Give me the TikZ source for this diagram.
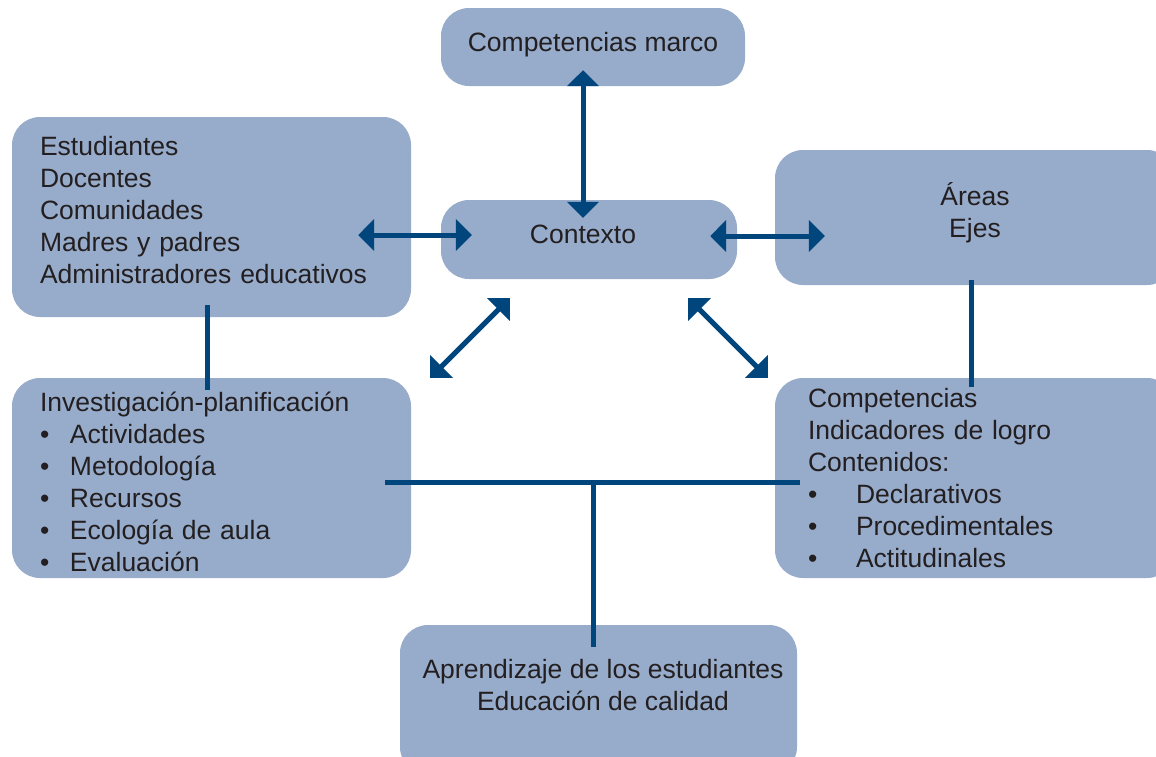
\documentclass[tikz,border=0pt]{standalone}
\usepackage{fontspec}
\setmainfont{Liberation Sans}
\usetikzlibrary{arrows.meta}
\definecolor{cajafondo}{HTML}{97ABCB}
\definecolor{flecha}{HTML}{00457C}
\definecolor{texto}{HTML}{231F20}
\newcommand{\vineta}[1][30pt]{\makebox[#1][l]{\textbullet}}

\begin{document}
\begin{tikzpicture}[
                x=1pt, y=-1pt,
                caja/.style={rectangle, rounded corners=28pt, fill=cajafondo, inner sep=0pt},
                letra/.style={text=texto, font=\fontsize{26.5}{32}\selectfont, inner sep=0pt},
                enlace/.style={draw=flecha, line width=5pt},
                doble/.style={enlace, {Triangle[length=16pt, width=31pt]}-{Triangle[length=16pt, width=31pt]}}
            ]
            \path[use as bounding box, clip] (0,0) rectangle (1156,756);

            % Cajas
            \node[caja, minimum width=304pt, minimum height=78pt] (marco) at (593,47) {};
            \node[caja, minimum width=296pt, minimum height=79pt] (ctx) at (589,239.5) {};
            \node[caja, minimum width=399pt, minimum height=200pt] (actores) at (211.5,217) {};
            \node[caja, minimum width=400pt, minimum height=135pt] (areas) at (975,217.5) {};
            \node[caja, minimum width=399pt, minimum height=200pt] (inv) at (211.5,478) {};
            \node[caja, minimum width=400pt, minimum height=200pt] (comp) at (975,478) {};
            \node[caja, minimum width=397pt, minimum height=150pt] (aprend) at (598.5,700) {};

            % Textos
            \node[letra] (marco-t) at ([shift={(0,-2)}]marco) {Competencias marco};
            \node[letra] (ctx-t) at ([shift={(-6,-5)}]ctx) {Contexto};
            \node[letra, text width=343pt, align=left] (actores-t) at ([shift={(0,-7)}]actores)
                {Estudiantes\\Docentes\\Comunidades\\Madres y padres\\Administradores educativos};
            \node[letra, align=center] (areas-t) at ([shift={(0,-5)}]areas) {Áreas\\Ejes};
            \node[letra, text width=343pt, align=left] (inv-t) at ([shift={(0,3.5)}]inv)
                {Investigación-planificación\\\vineta Actividades\\\vineta Metodología\\\vineta Recursos\\\vineta Ecología de aula\\\vineta Evaluación};
            \node[letra, text width=334pt, align=left] (comp-t) at ([shift={(0,0.5)}]comp)
                {Competencias\\Indicadores de logro\\Contenidos:\\\vineta[48pt]Declarativos\\\vineta[48pt]Procedimentales\\\vineta[48pt]Actitudinales};
            \node[letra, align=center] (aprend-t) at ([shift={(4.5,-15)}]aprend)
                {Aprendizaje de los estudiantes\\Educación de calidad};

            % Flechas desde el contexto
            \draw[doble] ([shift={(-6,18)}]ctx.north) -- ([shift={(-10,-16)}]marco.south);
            \draw[doble] ([shift={(-53,18)}]actores.east) -- ([shift={(31,-4.5)}]ctx.west);
            \draw[doble] ([shift={(-27,-3.5)}]ctx.east) -- ([shift={(50,18.5)}]areas.west);
            \draw[doble] ([shift={(69,19)}]ctx.south west) -- ([shift={(19,0)}]inv.north east);
            \draw[doble] ([shift={(-49,19)}]ctx.south east) -- ([shift={(-7,0)}]comp.north west);

            % Lineas de union
            \draw[enlace] ([shift={(-4.5,-12)}]actores.south) -- ([shift={(-4.5,12)}]inv.north);
            \draw[enlace] ([shift={(-4,-5)}]areas.south) -- ([shift={(-4,9)}]comp.north);
            \draw[enlace] ([shift={(-26,4)}]inv.east) -- ([shift={(25,4)}]comp.west);
            \coordinate (cruce) at (593,482);
            \draw[enlace] (cruce) -- ([shift={(-5.5,22)}]aprend.north);

            \end{tikzpicture}
\end{document}
